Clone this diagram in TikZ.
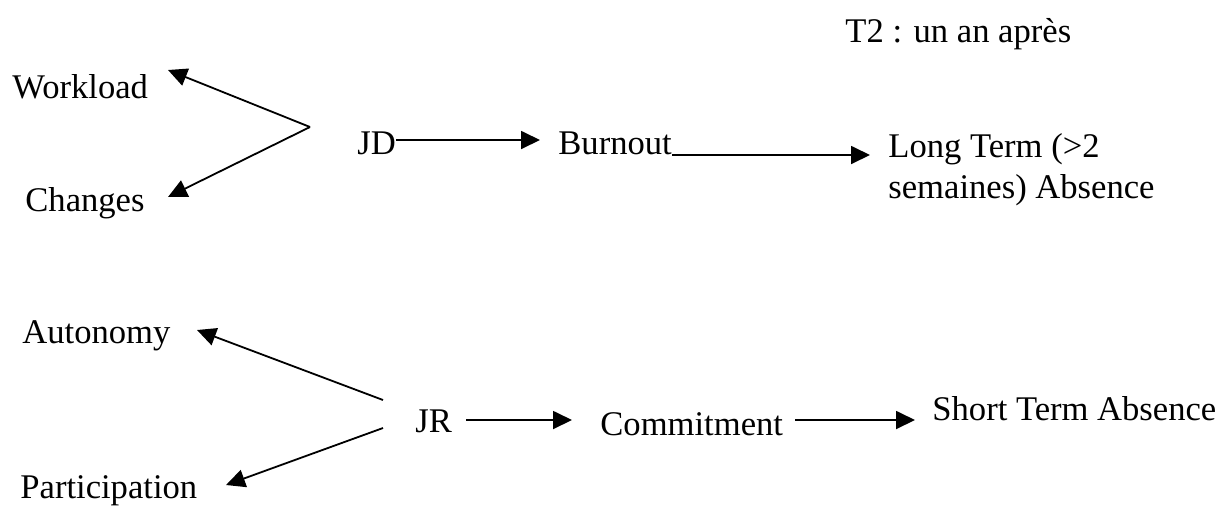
\documentclass[tikz,border=0pt]{standalone}
\usepackage{fontspec}
\setmainfont{Liberation Serif}
\usetikzlibrary{arrows.meta}
\begin{document}
\begin{tikzpicture}[x=0.5pt,y=-0.5pt,
  lbl/.style={inner sep=0pt,anchor=base west,font=\fontsize{17.3}{20.5}\selectfont},
  conn/.style={line width=0.9pt,-{Triangle[length=9.5pt,width=9pt]}}]
\useasboundingbox (0,0) rectangle (1220,505);
\node[lbl] (t2) at (845,42) {T2 : un an après};
\node[lbl] (work) at (12,98) {Workload};
\node[lbl] (chg) at (25,211) {Changes};
\node[lbl] (jd) at (357,154) {JD};
\node[lbl] (burn) at (558,154) {Burnout};
\node[lbl,align=left,anchor=north west] (lt) at (888,133) {Long Term (>2\\semaines) Absence};
\node[lbl] (auto) at (22,343) {Autonomy};
\node[lbl] (part) at (20,498) {Participation};
\node[lbl] (jr) at (415,432) {JR};
\node[lbl] (com) at (600,435) {Commitment};
\node[lbl] (sta) at (932,420) {Short Term Absence};
\coordinate (v1) at (310,127);
\coordinate (w1) at (383,400);
\coordinate (w2) at (383,428);
\draw[conn] (v1) -- (168,70) coordinate (work-tip);
\draw[conn] (v1) -- (168,197) coordinate (chg-tip);
\draw[conn] (jd.east|-0,140) -- (540,140) coordinate (burn-tip);
\draw[conn] (burn.east|-0,155) -- (870,155) coordinate (lt-tip);
\draw[conn] (w1) -- (197,330) coordinate (auto-tip);
\draw[conn] (w2) -- (226,485) coordinate (part-tip);
\draw[conn] (466,420) -- (572,420);
\draw[conn] (795,420) -- (915,420);
\end{tikzpicture}
\end{document}
